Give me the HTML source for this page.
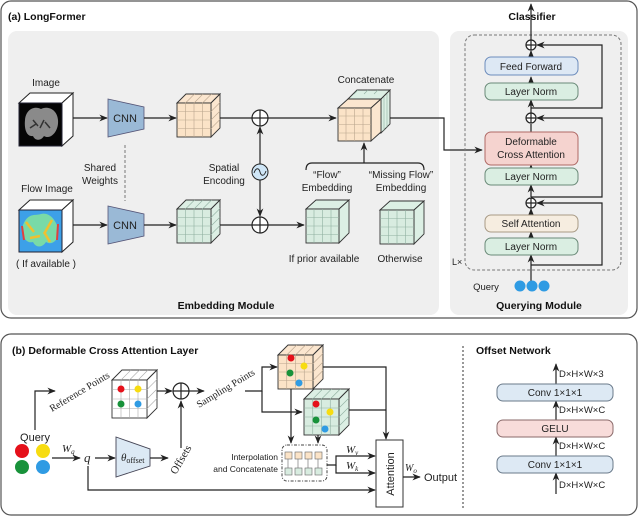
<!DOCTYPE html>
<html><head><meta charset="utf-8"><style>
html,body{margin:0;padding:0;background:#fff}
svg{display:block;font-family:"Liberation Sans",Arial,sans-serif}
.t{font-size:10px;fill:#222}
.b{font-size:10.5px;font-weight:bold;fill:#111}
.s{font-family:"Liberation Serif",serif;font-size:11px;fill:#222}
.ln{stroke:#222;stroke-width:1.2;fill:none}
.g{stroke:#b9a58e;stroke-width:0.6}
.gg{stroke:#8fb0a0;stroke-width:0.6}
</style></head><body>
<svg width="640" height="517" viewBox="0 0 640 517" xmlns="http://www.w3.org/2000/svg">
<defs>
<marker id="a" viewBox="0 0 10 10" refX="9" refY="5" markerWidth="7" markerHeight="7" orient="auto-start-reverse"><path d="M0,1 L10,5 L0,9 L3,5z" fill="#222"/></marker>
</defs>
<!-- top panel -->
<rect x="1" y="1" width="636" height="317" rx="10" fill="#fff" stroke="#555" stroke-width="1.2"/>
<rect x="8" y="31" width="431" height="284" rx="9" fill="#efefef"/>
<rect x="450" y="31" width="178" height="284" rx="9" fill="#efefef"/>
<text x="8" y="20" class="b">(a) LongFormer</text>
<text x="226" y="309" class="b" text-anchor="middle">Embedding Module</text>
<text x="539" y="309" class="b" text-anchor="middle">Querying Module</text>
<text x="532" y="20" class="b" text-anchor="middle">Classifier</text>

<!-- Image cube -->
<text x="46" y="86" class="t" text-anchor="middle">Image</text>
<polygon points="19,103 30,93 73,93 62,103" fill="#fff" stroke="#222"/>
<polygon points="62,103 73,93 73,136 62,146" fill="#fff" stroke="#222"/>
<rect x="19" y="103" width="43" height="43" fill="#050505" stroke="#223"/>
<path d="M25,120 C26,108 36,106 41,109 C46,106 57,108 58,120 C59,132 50,140 44,136 C41,141 35,141 33,136 C27,137 24,130 25,120Z" fill="#8a8a8a"/>
<path d="M33,120 L38,126 M44,120 L40,128 M30,128 L36,124 M50,128 L45,122" stroke="#333" stroke-width="1.5"/>
<!-- Flow cube -->
<text x="47" y="192" class="t" text-anchor="middle">Flow Image</text>
<text x="46" y="267" class="t" text-anchor="middle">( If available )</text>
<polygon points="19,210 30,200 73,200 62,210" fill="#fff" stroke="#222"/>
<polygon points="62,210 73,200 73,242 62,252" fill="#fff" stroke="#222"/>
<rect x="19" y="210" width="43" height="42" fill="#3da0e8" stroke="#223"/>
<path d="M23,225 C28,212 36,216 41,214 C48,212 55,218 58,228 C60,240 52,246 46,242 C42,248 36,248 33,242 C26,244 21,236 23,225Z" fill="#7fe0a0" opacity="0.9"/>
<path d="M26,222 L34,232 M52,220 L44,234 M30,238 L40,236 M50,242 L44,232" stroke="#f0c030" stroke-width="2.5"/>
<path d="M22,226 L24,240 M58,224 L57,240" stroke="#e04040" stroke-width="2"/>

<!-- CNNs -->
<polygon points="108,99 144,107 144,129 108,137" fill="#9ab9d6" stroke="#557" stroke-width="0.8"/>
<text x="125" y="122" class="t" text-anchor="middle" style="font-size:11px">CNN</text>
<polygon points="108,206 144,214 144,236 108,244" fill="#9ab9d6" stroke="#557" stroke-width="0.8"/>
<text x="125" y="229" class="t" text-anchor="middle" style="font-size:11px">CNN</text>
<line x1="125" y1="145" x2="125" y2="201" stroke="#777" stroke-dasharray="3,2"/>
<text x="100" y="171" class="t" text-anchor="middle">Shared</text>
<text x="100" y="184" class="t" text-anchor="middle">Weights</text>
<line x1="73" y1="118" x2="107" y2="118" class="ln" marker-end="url(#a)"/>
<line x1="73" y1="225" x2="107" y2="225" class="ln" marker-end="url(#a)"/>
<line x1="144" y1="118" x2="176" y2="118" class="ln" marker-end="url(#a)"/>
<line x1="144" y1="225" x2="176" y2="225" class="ln" marker-end="url(#a)"/>

<!-- orange cube -->
<g stroke="#333" stroke-width="0.9">
<polygon points="177,103 186,94 220,94 211,103" fill="#fbe6cf"/>
<polygon points="211,103 220,94 220,128 211,137" fill="#fbe6cf"/>
<rect x="177" y="103" width="34" height="34" fill="#fbe3c7"/>
</g>
<path class="g" d="M185.5,103V137M194,103V137M202.5,103V137M177,111.5H211M177,120H211M177,128.5H211M185.5,103l9,-9M194,103l9,-9M202.5,103l9,-9M211,111.5l9,-9M211,120l9,-9M211,128.5l9,-9"/>
<!-- green cube -->
<g stroke="#333" stroke-width="0.9">
<polygon points="177,209 186,200 220,200 211,209" fill="#dcefe4"/>
<polygon points="211,209 220,200 220,234 211,243" fill="#dcefe4"/>
<rect x="177" y="209" width="34" height="34" fill="#d8ece0"/>
</g>
<path class="gg" d="M185.5,209V243M194,209V243M202.5,209V243M177,217.5H211M177,226H211M177,234.5H211M185.5,209l9,-9M194,209l9,-9M202.5,209l9,-9M211,217.5l9,-9M211,226l9,-9M211,234.5l9,-9"/>

<!-- plus circles & spatial -->
<line x1="220" y1="118" x2="252" y2="118" class="ln"/>
<line x1="220" y1="225" x2="252" y2="225" class="ln"/>
<circle cx="260" cy="118" r="8" fill="#fff" stroke="#222" stroke-width="1.2"/>
<path d="M252,118H268M260,110V126" class="ln"/>
<circle cx="260" cy="225" r="8" fill="#fff" stroke="#222" stroke-width="1.2"/>
<path d="M252,225H268M260,217V233" class="ln"/>
<line x1="260" y1="164" x2="260" y2="127" class="ln" marker-end="url(#a)"/>
<line x1="260" y1="180" x2="260" y2="216" class="ln" marker-end="url(#a)"/>
<circle cx="260" cy="172" r="8" fill="#cfe6f7" stroke="#222" stroke-width="1"/>
<path d="M254,173 C256,167 259,168 260,172 C261,176 264,177 266,171" stroke="#222" fill="none" stroke-width="0.9"/>
<text x="224" y="171" class="t" text-anchor="middle">Spatial</text>
<text x="224" y="184" class="t" text-anchor="middle">Encoding</text>
<line x1="268" y1="118" x2="336" y2="118" class="ln" marker-end="url(#a)"/>
<line x1="268" y1="225" x2="304" y2="225" class="ln" marker-end="url(#a)"/>

<!-- concat cube -->
<text x="366" y="83" class="t" text-anchor="middle">Concatenate</text>
<g stroke="#333" stroke-width="0.9">
<polygon points="348,99 357,90 390,90 381,99" fill="#dcefe4"/>
<polygon points="381,99 390,90 390,124 381,133" fill="#dcefe4"/>
<polygon points="338,108 348,99 381,99 371,108" fill="#fbe6cf"/>
<polygon points="371,108 381,99 381,132 371,141" fill="#fbe6cf"/>
<rect x="338" y="108" width="33" height="33" fill="#fbe3c7"/>
</g>
<path class="g" d="M346,108V141M354.5,108V141M363,108V141M338,116H371M338,124.5H371M338,133H371"/>
<path class="gg" d="M384,97V131M387,94V128M358,90l-4,4M368,90l-4,4M378,90l-4,4"/>
<path d="M390,118H444V150H482" class="ln" marker-end="url(#a)"/>

<!-- brace -->
<path d="M306,170 Q306,163 312,163 H418 Q424,163 424,170" class="ln"/>
<line x1="364" y1="163" x2="364" y2="143" class="ln" marker-end="url(#a)"/>
<text x="327" y="178" class="t" text-anchor="middle">“Flow”</text>
<text x="327" y="191" class="t" text-anchor="middle">Embedding</text>
<text x="401" y="178" class="t" text-anchor="middle">“Missing Flow”</text>
<text x="401" y="191" class="t" text-anchor="middle">Embedding</text>
<!-- flow emb cubes -->
<g stroke="#333" stroke-width="0.9">
<polygon points="306,209 316,200 349,200 339,209" fill="#dcefe4"/>
<polygon points="339,209 349,200 349,233 339,243" fill="#dcefe4"/>
<rect x="306" y="209" width="33" height="34" fill="#d8ece0"/>
<polygon points="380,210 390,201 424,201 414,210" fill="#dcefe4"/>
<polygon points="414,210 424,201 424,234 414,244" fill="#dcefe4"/>
<rect x="380" y="210" width="34" height="34" fill="#d8ece0"/>
</g>
<path class="gg" d="M314,209V243M322.5,209V243M331,209V243M306,217.5H339M306,226H339M306,234.5H339M388.5,210V244M397,210V244M405.5,210V244M380,218.5H414M380,227H414M380,235.5H414"/>
<text x="324" y="262" class="t" text-anchor="middle">If prior available</text>
<text x="400" y="262" class="t" text-anchor="middle">Otherwise</text>

<!-- querying module -->
<rect x="465" y="35" width="156" height="235" rx="9" fill="none" stroke="#777" stroke-dasharray="3,2"/>
<text x="452" y="265" class="t" style="font-size:9px">L×</text>
<line x1="531" y1="40" x2="531" y2="4" class="ln" marker-end="url(#a)"/>
<g class="ln">
<circle cx="531" cy="45" r="5" fill="#fff"/><path d="M526,45H536M531,40V50"/>
<circle cx="531" cy="118" r="5" fill="#fff"/><path d="M526,118H536M531,113V123"/>
<circle cx="531" cy="203" r="5" fill="#fff"/><path d="M526,203H536M531,198V208"/>
</g>
<path d="M531,108H602V45H537" class="ln" marker-end="url(#a)"/>
<path d="M531,197H602V118H537" class="ln" marker-end="url(#a)"/>
<path d="M531,265H602V203H537" class="ln" marker-end="url(#a)"/>
<line x1="531" y1="290" x2="531" y2="255" class="ln" marker-end="url(#a)"/>
<line x1="531" y1="238" x2="531" y2="232" class="ln" marker-end="url(#a)"/>
<line x1="531" y1="215" x2="531" y2="209" class="ln" marker-end="url(#a)"/>
<line x1="531" y1="197" x2="531" y2="185" class="ln" marker-end="url(#a)"/>
<line x1="531" y1="168" x2="531" y2="165" class="ln" marker-end="url(#a)"/>
<line x1="531" y1="132" x2="531" y2="124" class="ln"/>
<line x1="531" y1="113" x2="531" y2="100" class="ln" marker-end="url(#a)"/>
<line x1="531" y1="83" x2="531" y2="77" class="ln" marker-end="url(#a)"/>
<line x1="531" y1="57" x2="531" y2="51" class="ln" marker-end="url(#a)"/>
<rect x="485" y="57" width="93" height="18" rx="6" fill="#dde8f4" stroke="#6c8cbc"/>
<text x="531" y="70" class="t" text-anchor="middle">Feed Forward</text>
<rect x="485" y="83" width="93" height="17" rx="6" fill="#daeee2" stroke="#6a8a78"/>
<text x="531" y="95" class="t" text-anchor="middle">Layer Norm</text>
<rect x="485" y="132" width="93" height="33" rx="6" fill="#f5d3cf" stroke="#b06a66"/>
<text x="531" y="145" class="t" text-anchor="middle">Deformable</text>
<text x="531" y="158" class="t" text-anchor="middle">Cross Attention</text>
<rect x="485" y="168" width="93" height="17" rx="6" fill="#daeee2" stroke="#6a8a78"/>
<text x="531" y="180" class="t" text-anchor="middle">Layer Norm</text>
<rect x="485" y="215" width="93" height="17" rx="6" fill="#f6ede0" stroke="#a89a85"/>
<text x="531" y="227" class="t" text-anchor="middle">Self Attention</text>
<rect x="485" y="238" width="93" height="17" rx="6" fill="#daeee2" stroke="#6a8a78"/>
<text x="531" y="250" class="t" text-anchor="middle">Layer Norm</text>
<text x="486" y="290" class="t" text-anchor="middle" style="font-size:9.5px">Query</text>
<circle cx="520" cy="286" r="5.5" fill="#2f9be3"/>
<circle cx="532" cy="286" r="5.5" fill="#2f9be3"/>
<circle cx="544" cy="286" r="5.5" fill="#2f9be3"/>

<!-- bottom panel -->
<rect x="1" y="334" width="636" height="181" rx="10" fill="#fff" stroke="#555" stroke-width="1.2"/>
<text x="12" y="354" class="b">(b) Deformable Cross Attention Layer</text>
<line x1="463" y1="346" x2="463" y2="510" stroke="#333" stroke-dasharray="2,2"/>
<text x="476" y="354" class="b">Offset Network</text>
<line x1="556" y1="384" x2="556" y2="364" class="ln" marker-end="url(#a)"/>
<line x1="556" y1="420" x2="556" y2="401" class="ln" marker-end="url(#a)"/>
<line x1="556" y1="456" x2="556" y2="437" class="ln" marker-end="url(#a)"/>
<line x1="556" y1="494" x2="556" y2="473" class="ln" marker-end="url(#a)"/>
<rect x="497" y="384" width="116" height="17" rx="6" fill="#dde9f4" stroke="#6a7a8a"/>
<text x="555" y="396" class="t" text-anchor="middle">Conv 1×1×1</text>
<rect x="497" y="420" width="116" height="17" rx="6" fill="#f8dcda" stroke="#8a6a6a"/>
<text x="555" y="432" class="t" text-anchor="middle">GELU</text>
<rect x="497" y="456" width="116" height="17" rx="6" fill="#dde9f4" stroke="#6a7a8a"/>
<text x="555" y="468" class="t" text-anchor="middle">Conv 1×1×1</text>
<text x="559" y="377" class="t" style="font-size:9.5px">D×H×W×3</text>
<text x="559" y="413" class="t" style="font-size:9.5px">D×H×W×C</text>
<text x="559" y="449" class="t" style="font-size:9.5px">D×H×W×C</text>
<text x="559" y="488" class="t" style="font-size:9.5px">D×H×W×C</text>

<!-- query -->
<text x="35" y="441" class="t" text-anchor="middle" style="font-size:11px">Query</text>
<circle cx="22" cy="451" r="7" fill="#e5101a"/>
<circle cx="43" cy="451" r="7" fill="#f7dc10"/>
<circle cx="22" cy="467" r="7" fill="#18923a"/>
<circle cx="43" cy="467" r="7" fill="#2f9be3"/>
<path d="M35,430V391H55" class="ln" marker-end="url(#a)"/>
<text x="0" y="0" class="s" transform="translate(52,412) rotate(-31)" style="font-size:10px">Reference Points</text>
<line x1="52" y1="458" x2="80" y2="458" class="ln" marker-end="url(#a)"/>
<text x="62" y="452" class="s" font-style="italic">W<tspan font-size="7" dy="2">q</tspan></text>
<text x="84" y="462" class="s" font-style="italic" style="font-size:13px">q</text>
<line x1="95" y1="458" x2="115" y2="458" class="ln" marker-end="url(#a)"/>
<polygon points="116,437 150,449 150,466 116,477" fill="#dce9f4" stroke="#445" stroke-width="0.9"/>
<text x="121" y="461" class="s" font-style="italic">θ<tspan font-style="normal" font-size="8" dy="2">offset</tspan></text>
<line x1="150" y1="458" x2="168" y2="458" class="ln" marker-end="url(#a)"/>
<text x="0" y="0" class="s" transform="translate(176,475) rotate(-60)">Offsets</text>
<line x1="181" y1="448" x2="181" y2="401" class="ln" marker-end="url(#a)"/>

<!-- reference grid cube -->
<g stroke="#333" stroke-width="0.9">
<polygon points="112,380 122,370 157,370 147,380" fill="#fff"/>
<polygon points="147,380 157,370 157,408 147,418" fill="#fff"/>
<rect x="112" y="380" width="35" height="38" fill="#fff"/>
</g>
<path stroke="#aaa" stroke-width="0.6" d="M121,380V418M129.5,380V418M138,380V418M112,389.5H147M112,399H147M112,408.5H147M121,380l10,-10M129.5,380l10,-10M138,380l10,-10M147,389.5l10,-10M147,399l10,-10M147,408.5l10,-10"/>
<circle cx="121" cy="389" r="3.5" fill="#e5101a"/><circle cx="138" cy="389" r="3.5" fill="#f7dc10"/>
<circle cx="121" cy="404" r="3.5" fill="#18923a"/><circle cx="138" cy="404" r="3.5" fill="#2f9be3"/>
<line x1="157" y1="391" x2="172" y2="391" class="ln" marker-end="url(#a)"/>
<circle cx="181" cy="391" r="8" fill="#fff" stroke="#222" stroke-width="1.2"/>
<path d="M173,391H189M181,383V399" class="ln"/>
<line x1="189" y1="391" x2="204" y2="391" class="ln" marker-end="url(#a)"/>
<text x="0" y="0" class="s" transform="translate(199,408) rotate(-31)" style="font-size:10px">Sampling Points</text>
<path d="M245,391H262V367H277" class="ln" marker-end="url(#a)"/>
<path d="M262,391V412H302" class="ln" marker-end="url(#a)"/>

<!-- sampling orange cube -->
<g stroke="#333" stroke-width="0.9">
<polygon points="278,355 288,345 323,345 313,355" fill="#fbe6cf"/>
<polygon points="313,355 323,345 323,379 313,389" fill="#fbe6cf"/>
<rect x="278" y="355" width="35" height="34" fill="#fbe3c7"/>
</g>
<path class="g" d="M286.75,355V389M295.5,355V389M304.25,355V389M278,363.5H313M278,372H313M278,380.5H313M286.75,355l10,-10M295.5,355l10,-10M304.25,355l10,-10M313,363.5l10,-10M313,372l10,-10M313,380.5l10,-10"/>
<circle cx="291" cy="358" r="3.5" fill="#e5101a"/><circle cx="304" cy="366" r="3.5" fill="#f7dc10"/>
<circle cx="290" cy="373" r="3.5" fill="#18923a"/><circle cx="299" cy="383" r="3.5" fill="#2f9be3"/>
<!-- sampling green cube -->
<g stroke="#333" stroke-width="0.9">
<polygon points="304,399 314,389 349,389 339,399" fill="#dcefe4"/>
<polygon points="339,399 349,389 349,425 339,435" fill="#dcefe4"/>
<rect x="304" y="399" width="35" height="36" fill="#d8ece0"/>
</g>
<path class="gg" d="M312.75,399V435M321.5,399V435M330.25,399V435M304,408H339M304,417H339M304,426H339M312.75,399l10,-10M321.5,399l10,-10M330.25,399l10,-10M339,408l10,-10M339,417l10,-10M339,426l10,-10"/>
<circle cx="316" cy="404" r="3.5" fill="#e5101a"/><circle cx="330" cy="412" r="3.5" fill="#f7dc10"/>
<circle cx="316" cy="420" r="3.5" fill="#18923a"/><circle cx="325" cy="429" r="3.5" fill="#2f9be3"/>
<path d="M323,367H386V439" class="ln" marker-end="url(#a)"/>
<path d="M349,410H386" class="ln"/>
<line x1="291" y1="389" x2="291" y2="443" class="ln" marker-end="url(#a)"/>
<line x1="318" y1="435" x2="318" y2="443" class="ln" marker-end="url(#a)"/>

<!-- interpolation box -->
<rect x="282" y="445" width="45" height="36" rx="5" fill="#fff" stroke="#444" stroke-dasharray="3,1.5,1,1.5"/>
<g stroke="#666" stroke-width="0.6">
<rect x="285" y="452" width="7" height="7" fill="#fbe3c7"/><rect x="295" y="452" width="7" height="7" fill="#fbe3c7"/><rect x="305" y="452" width="7" height="7" fill="#fbe3c7"/><rect x="315" y="452" width="7" height="7" fill="#fbe3c7"/>
<rect x="285" y="468" width="7" height="7" fill="#d8ece0"/><rect x="295" y="468" width="7" height="7" fill="#d8ece0"/><rect x="305" y="468" width="7" height="7" fill="#d8ece0"/><rect x="315" y="468" width="7" height="7" fill="#d8ece0"/>
<path d="M288,459V468M298,459V468M308,459V468M318,459V468" fill="none"/>
</g>
<text x="278" y="460" class="t" text-anchor="end" style="font-size:8.5px">Interpolation</text>
<text x="278" y="472" class="t" text-anchor="end" style="font-size:8.5px">and Concatenate</text>
<path d="M327,465H336V456H375" class="ln" marker-end="url(#a)"/>
<path d="M336,465V473H375" class="ln" marker-end="url(#a)"/>
<text x="346" y="453" class="s" font-style="italic">W<tspan font-size="7" dy="2">v</tspan></text>
<text x="346" y="469" class="s" font-style="italic">W<tspan font-size="7" dy="2">k</tspan></text>
<path d="M88,466V490H375" class="ln" marker-end="url(#a)"/>
<rect x="376" y="440" width="27" height="67" fill="#fff" stroke="#333"/>
<text x="0" y="0" class="t" transform="translate(394,474) rotate(-90)" text-anchor="middle" style="font-size:11px">Attention</text>
<line x1="403" y1="477" x2="420" y2="477" class="ln" marker-end="url(#a)"/>
<text x="405" y="471" class="s" font-style="italic" style="font-size:10px">W<tspan font-size="7" dy="2">o</tspan></text>
<text x="424" y="481" class="t" style="font-size:11px">Output</text>
</svg>
</body></html>
